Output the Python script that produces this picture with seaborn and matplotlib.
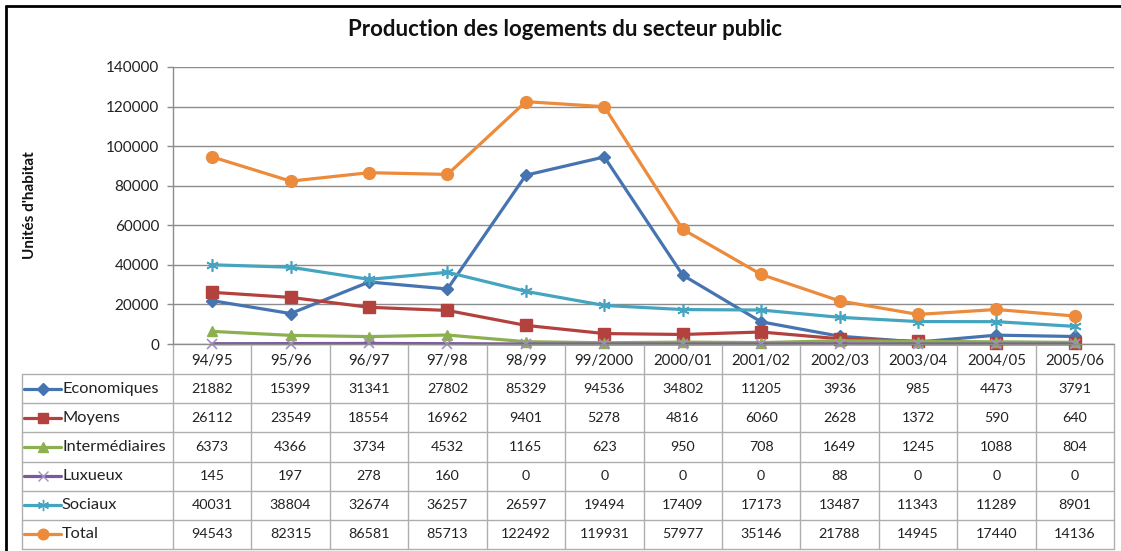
import matplotlib
matplotlib.use("Agg")
import matplotlib.pyplot as plt
from matplotlib.lines import Line2D
import seaborn as sns

categories = ["94/95", "95/96", "96/97", "97/98", "98/99", "99/2000",
              "2000/01", "2001/02", "2002/03", "2003/04", "2004/05", "2005/06"]
economiques = [21882, 15399, 31341, 27802, 85329, 94536, 34802, 11205, 3936, 985, 4473, 3791]
moyens = [26112, 23549, 18554, 16962, 9401, 5278, 4816, 6060, 2628, 1372, 590, 640]
intermediaires = [6373, 4366, 3734, 4532, 1165, 623, 950, 708, 1649, 1245, 1088, 804]
luxueux = [145, 197, 278, 160, 0, 0, 0, 0, 88, 0, 0, 0]
sociaux = [40031, 38804, 32674, 36257, 26597, 19494, 17409, 17173, 13487, 11343, 11289, 8901]
total = [94543, 82315, 86581, 85713, 122492, 119931, 57977, 35146, 21788, 14945, 17440, 14136]

series_names = ["Economiques", "Moyens", "Intermédiaires", "Luxueux", "Sociaux", "Total"]
series_values = [economiques, moyens, intermediaires, luxueux, sociaux, total]
colors = ["#4674B0", "#B3423F", "#8DB04F", "#7A5A9C", "#45A5C0", "#EB8B3B"]
markers = ["D", "s", "^", "x", (6, 2, 0), "o"]
msizes = [6.5, 8.5, 7.5, 7.5, 9, 8.5]

title = "Production des logements du secteur public"
ylabel = "Unités d'habitat"

sns.set_theme(style="white")
plt.rcParams["font.family"] = ["Lato", "DejaVu Sans"]

W, H = 1121, 551
def fx(px): return px / W
def fy(py): return 1 - py / H

fig = plt.figure(figsize=(W / 100, H / 100), dpi=100)
fig.patch.set_facecolor("white")

L, R, T, B = 173, 1114, 67, 344
ax = fig.add_axes([fx(L), fy(B), fx(R) - fx(L), fy(T) - fy(B)])

for name, vals, c, m, ms in zip(series_names, series_values, colors, markers, msizes):
    lw_m = 1.0
    mec = c
    if m == "x" or isinstance(m, tuple):
        lw_m = 1.2
    if m == "x":
        mec = "#A48FC4"
    sns.lineplot(x=categories, y=vals, ax=ax, color=c, marker=m, markersize=ms,
                 markerfacecolor=c, markeredgecolor=mec, markeredgewidth=lw_m,
                 linewidth=2.3, legend=False, clip_on=False, sort=False)

ax.set_ylim(0, 140000)
ax.set_xlim(-0.5, 11.5)
ax.set_yticks(range(0, 140001, 20000))
ax.set_yticklabels([str(v) for v in range(0, 140001, 20000)], fontsize=11, color="#222222")
ax.yaxis.grid(True, color="#8C8C8C", linewidth=1.0)
ax.set_axisbelow(True)
ax.tick_params(axis="y", length=4, width=1, color="#8C8C8C", left=True, pad=6)
ax.set_xticks(range(len(categories)))
ax.set_xticklabels(categories, fontsize=10.8, color="#222222")
ax.tick_params(axis="x", length=0, pad=7)
for s in ["top", "right"]:
    ax.spines[s].set_visible(False)
ax.spines["left"].set_color("#8C8C8C")
ax.spines["bottom"].set_color("#8C8C8C")
ax.spines["left"].set_linewidth(1.0)
ax.spines["bottom"].set_linewidth(1.0)
ax.set_xlabel("")
ax.set_ylabel("")

# Data table
TL, TT, TB = 22, 345, 549
colw = (R - L) / 12.0
lw_cols = (L - TL) / colw
tax = fig.add_axes([fx(TL), fy(TB), fx(R) - fx(TL), fy(TT) - fy(TB)])
tax.set_xlim(-0.5 - lw_cols, 11.5)
tax.set_ylim(7, 0)
tax.axis("off")
gc = "#AEAEAE"
nrows = len(series_names)
left_edge = -0.5 - lw_cols
for i in range(1, nrows + 2):
    tax.plot([left_edge, 11.5], [i, i], color=gc, lw=1.0, clip_on=False)
for k in range(13):
    tax.plot([k - 0.5, k - 0.5], [0, nrows + 1], color=gc, lw=1.0, clip_on=False)
tax.plot([left_edge, left_edge], [1, nrows + 1], color=gc, lw=1.0, clip_on=False)

def px2col(px):
    return (px - L) / colw - 0.5

for i, (name, vals, c, m, ms) in enumerate(zip(series_names, series_values, colors, markers, msizes)):
    yc = i + 1.5
    tax.plot([px2col(24), px2col(61)], [yc, yc], color=c, lw=2.3, clip_on=False)
    mec = "#A48FC4" if m == "x" else c
    tax.plot([px2col(42.5)], [yc], color=c, marker=m, markersize=ms * 0.9,
             markeredgecolor=mec, markeredgewidth=1.0, clip_on=False)
    tax.text(px2col(62), yc, name, ha="left", va="center", fontsize=11.8, color="#222222")
    for j, v in enumerate(vals):
        tax.text(j, yc, str(v), ha="center", va="center", fontsize=10.3, color="#222222")

fig.text(fx(565), fy(30), title, ha="center", va="center", fontsize=16,
         fontweight="bold", color="#111111")
fig.text(fx(30), fy(205), ylabel, ha="center", va="center", rotation=90,
         fontsize=11, fontweight="bold", color="#111111")

fig.add_artist(Line2D([fx(6), fx(6)], [fy(6), 0], color="black", lw=2))
fig.add_artist(Line2D([fx(6), 1], [fy(6), fy(6)], color="black", lw=2))

fig.savefig("out.png", dpi=100, facecolor="white")
